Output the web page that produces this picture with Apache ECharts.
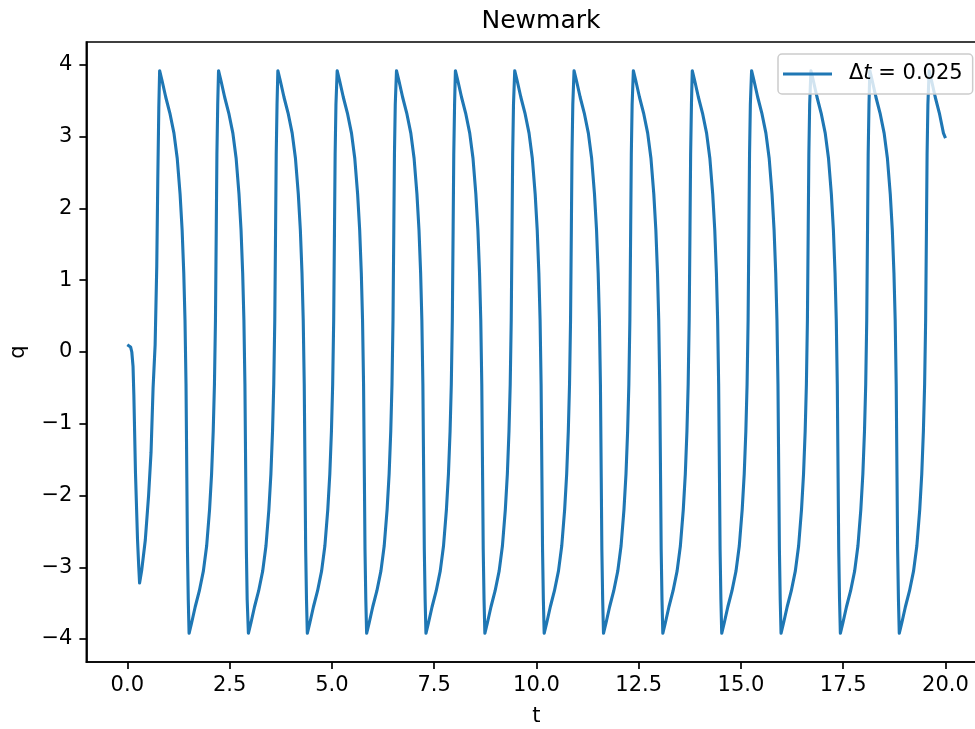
<!DOCTYPE html>
<html>
<head>
<meta charset="utf-8">
<title>Newmark</title>
<script src="https://cdn.jsdelivr.net/npm/echarts@6/dist/echarts.min.js"></script>
<style>
  html, body { margin: 0; padding: 0; background: #fff; }
  #chart { width: 975px; height: 729px; }
</style>
</head>
<body>
<div id="chart"></div>
<script>
// values: time t and response q
const tData = [
  0.00, 0.04, 0.08, 0.11, 0.14, 0.16, 0.20, 0.25, 0.28, 0.30,
  0.35, 0.44, 0.52, 0.58, 0.63, 0.68, 0.72, 0.745, 0.77,
  0.79, 0.85, 0.94, 1.04, 1.14, 1.22, 1.29, 1.34, 1.38, 1.41, 1.435, 1.455, 1.47, 1.49,
  1.51, 1.57, 1.66, 1.76, 1.86, 1.94, 2.01, 2.06, 2.10, 2.13, 2.155, 2.175, 2.19, 2.21,
  2.23, 2.29, 2.38, 2.48, 2.58, 2.66, 2.73, 2.78, 2.82, 2.85, 2.875, 2.895, 2.91, 2.93,
  2.96, 3.02, 3.11, 3.21, 3.31, 3.39, 3.46, 3.51, 3.55, 3.58, 3.605, 3.625, 3.64, 3.66,
  3.68, 3.74, 3.83, 3.93, 4.03, 4.11, 4.18, 4.23, 4.27, 4.30, 4.325, 4.345, 4.36, 4.38,
  4.40, 4.46, 4.55, 4.65, 4.75, 4.83, 4.90, 4.95, 4.99, 5.02, 5.045, 5.065, 5.08, 5.10,
  5.13, 5.19, 5.28, 5.38, 5.48, 5.56, 5.63, 5.68, 5.72, 5.75, 5.775, 5.795, 5.81, 5.83,
  5.85, 5.91, 6.00, 6.10, 6.20, 6.28, 6.35, 6.40, 6.44, 6.47, 6.495, 6.515, 6.53, 6.55,
  6.58, 6.64, 6.73, 6.83, 6.93, 7.01, 7.08, 7.13, 7.17, 7.20, 7.225, 7.245, 7.26, 7.28,
  7.30, 7.36, 7.45, 7.55, 7.65, 7.73, 7.80, 7.85, 7.89, 7.92, 7.945, 7.965, 7.98, 8.00,
  8.02, 8.08, 8.17, 8.27, 8.37, 8.45, 8.52, 8.57, 8.61, 8.64, 8.665, 8.685, 8.70, 8.72,
  8.74, 8.80, 8.89, 8.99, 9.09, 9.17, 9.24, 9.29, 9.33, 9.36, 9.385, 9.405, 9.42, 9.44,
  9.47, 9.53, 9.62, 9.72, 9.82, 9.90, 9.97, 10.02, 10.06, 10.09, 10.115, 10.135, 10.15, 10.17,
  10.19, 10.25, 10.34, 10.44, 10.54, 10.62, 10.69, 10.74, 10.78, 10.81, 10.835, 10.855, 10.87, 10.89,
  10.92, 10.98, 11.07, 11.17, 11.27, 11.35, 11.42, 11.47, 11.51, 11.54, 11.565, 11.585, 11.60, 11.62,
  11.64, 11.70, 11.79, 11.89, 11.99, 12.07, 12.14, 12.19, 12.23, 12.26, 12.285, 12.305, 12.32, 12.34,
  12.37, 12.43, 12.52, 12.62, 12.72, 12.80, 12.87, 12.92, 12.96, 12.99, 13.015, 13.035, 13.05, 13.07,
  13.09, 13.15, 13.24, 13.34, 13.44, 13.52, 13.59, 13.64, 13.68, 13.71, 13.735, 13.755, 13.77, 13.79,
  13.81, 13.87, 13.96, 14.06, 14.16, 14.24, 14.31, 14.36, 14.40, 14.43, 14.455, 14.475, 14.49, 14.51,
  14.53, 14.59, 14.68, 14.78, 14.88, 14.96, 15.03, 15.08, 15.12, 15.15, 15.175, 15.195, 15.21, 15.23,
  15.26, 15.32, 15.41, 15.51, 15.61, 15.69, 15.76, 15.81, 15.85, 15.88, 15.905, 15.925, 15.94, 15.96,
  15.98, 16.04, 16.13, 16.23, 16.33, 16.41, 16.48, 16.53, 16.57, 16.60, 16.625, 16.645, 16.66, 16.68,
  16.71, 16.77, 16.86, 16.96, 17.06, 17.14, 17.21, 17.26, 17.30, 17.33, 17.355, 17.375, 17.39, 17.41,
  17.43, 17.49, 17.58, 17.68, 17.78, 17.86, 17.93, 17.98, 18.02, 18.05, 18.075, 18.095, 18.11, 18.13,
  18.15, 18.21, 18.30, 18.40, 18.50, 18.58, 18.65, 18.70, 18.74, 18.77, 18.795, 18.815, 18.83, 18.85,
  18.87, 18.93, 19.02, 19.12, 19.22, 19.30, 19.37, 19.42, 19.46, 19.49, 19.515, 19.535, 19.55, 19.57,
  19.60, 19.66, 19.75, 19.85, 19.95, 20.00
];
const qData = [
  0.10, 0.10, 0.07, 0.00, -0.20, -0.60, -1.69, -2.62, -3.00, -3.22,
  -3.05, -2.62, -2.00, -1.40, -0.50, 0.10, 1.20, 2.40, 3.40,
  3.92, 3.78, 3.55, 3.33, 3.05, 2.70, 2.20, 1.70, 1.10, 0.45, -0.45, -1.75, -2.75, -3.45,
  -3.92, -3.78, -3.55, -3.33, -3.05, -2.70, -2.20, -1.70, -1.10, -0.45, 0.45, 1.75, 2.75, 3.45,
  3.92, 3.78, 3.55, 3.33, 3.05, 2.70, 2.20, 1.70, 1.10, 0.45, -0.45, -1.75, -2.75, -3.45,
  -3.92, -3.78, -3.55, -3.33, -3.05, -2.70, -2.20, -1.70, -1.10, -0.45, 0.45, 1.75, 2.75, 3.45,
  3.92, 3.78, 3.55, 3.33, 3.05, 2.70, 2.20, 1.70, 1.10, 0.45, -0.45, -1.75, -2.75, -3.45,
  -3.92, -3.78, -3.55, -3.33, -3.05, -2.70, -2.20, -1.70, -1.10, -0.45, 0.45, 1.75, 2.75, 3.45,
  3.92, 3.78, 3.55, 3.33, 3.05, 2.70, 2.20, 1.70, 1.10, 0.45, -0.45, -1.75, -2.75, -3.45,
  -3.92, -3.78, -3.55, -3.33, -3.05, -2.70, -2.20, -1.70, -1.10, -0.45, 0.45, 1.75, 2.75, 3.45,
  3.92, 3.78, 3.55, 3.33, 3.05, 2.70, 2.20, 1.70, 1.10, 0.45, -0.45, -1.75, -2.75, -3.45,
  -3.92, -3.78, -3.55, -3.33, -3.05, -2.70, -2.20, -1.70, -1.10, -0.45, 0.45, 1.75, 2.75, 3.45,
  3.92, 3.78, 3.55, 3.33, 3.05, 2.70, 2.20, 1.70, 1.10, 0.45, -0.45, -1.75, -2.75, -3.45,
  -3.92, -3.78, -3.55, -3.33, -3.05, -2.70, -2.20, -1.70, -1.10, -0.45, 0.45, 1.75, 2.75, 3.45,
  3.92, 3.78, 3.55, 3.33, 3.05, 2.70, 2.20, 1.70, 1.10, 0.45, -0.45, -1.75, -2.75, -3.45,
  -3.92, -3.78, -3.55, -3.33, -3.05, -2.70, -2.20, -1.70, -1.10, -0.45, 0.45, 1.75, 2.75, 3.45,
  3.92, 3.78, 3.55, 3.33, 3.05, 2.70, 2.20, 1.70, 1.10, 0.45, -0.45, -1.75, -2.75, -3.45,
  -3.92, -3.78, -3.55, -3.33, -3.05, -2.70, -2.20, -1.70, -1.10, -0.45, 0.45, 1.75, 2.75, 3.45,
  3.92, 3.78, 3.55, 3.33, 3.05, 2.70, 2.20, 1.70, 1.10, 0.45, -0.45, -1.75, -2.75, -3.45,
  -3.92, -3.78, -3.55, -3.33, -3.05, -2.70, -2.20, -1.70, -1.10, -0.45, 0.45, 1.75, 2.75, 3.45,
  3.92, 3.78, 3.55, 3.33, 3.05, 2.70, 2.20, 1.70, 1.10, 0.45, -0.45, -1.75, -2.75, -3.45,
  -3.92, -3.78, -3.55, -3.33, -3.05, -2.70, -2.20, -1.70, -1.10, -0.45, 0.45, 1.75, 2.75, 3.45,
  3.92, 3.78, 3.55, 3.33, 3.05, 2.70, 2.20, 1.70, 1.10, 0.45, -0.45, -1.75, -2.75, -3.45,
  -3.92, -3.78, -3.55, -3.33, -3.05, -2.70, -2.20, -1.70, -1.10, -0.45, 0.45, 1.75, 2.75, 3.45,
  3.92, 3.78, 3.55, 3.33, 3.05, 2.70, 2.20, 1.70, 1.10, 0.45, -0.45, -1.75, -2.75, -3.45,
  -3.92, -3.78, -3.55, -3.33, -3.05, -2.70, -2.20, -1.70, -1.10, -0.45, 0.45, 1.75, 2.75, 3.45,
  3.92, 3.78, 3.55, 3.33, 3.05, 2.70, 2.20, 1.70, 1.10, 0.45, -0.45, -1.75, -2.75, -3.45,
  -3.92, -3.78, -3.55, -3.33, -3.05, -2.70, -2.20, -1.70, -1.10, -0.45, 0.45, 1.75, 2.75, 3.45,
  3.92, 3.78, 3.55, 3.33, 3.05, 2.98
];
const xTicks = [0, 2.5, 5, 7.5, 10, 12.5, 15, 17.5, 20];
const yTicks = [-4, -3, -2, -1, 0, 1, 2, 3, 4];
const seriesName = 'Δt = 0.025';

if (tData.length !== qData.length) console.log('length mismatch', tData.length, qData.length);
const points = tData.map((t, i) => [t, qData[i]]);

const font = "'DejaVu Sans', sans-serif";
const chart = echarts.init(document.getElementById('chart'), null, { renderer: 'canvas' });

chart.setOption({
  animation: false,
  backgroundColor: '#fff',
  title: {
    text: 'Newmark',
    left: 536,
    textAlign: 'center',
    top: 4,
    textStyle: { fontFamily: font, fontSize: 25, fontWeight: 'normal', color: '#000' }
  },
  grid: {
    left: 86.4, top: 42, width: 900, height: 620,
    containLabel: false,
    outerBoundsMode: 'none',
    show: true, borderColor: '#000', borderWidth: 1.7, backgroundColor: 'transparent'
  },
  legend: {
    data: [seriesName],
    left: 778, top: 54,
    padding: [8, 10, 8, 5],
    icon: 'rect', itemWidth: 49, itemHeight: 3,
    selectedMode: false,
    backgroundColor: 'rgba(255,255,255,0.8)',
    borderColor: '#cccccc', borderWidth: 1.5, borderRadius: 4,
    formatter: () => '{d|Δ}{i|t}{n| = 0.025}',
    textStyle: {
      fontFamily: font, fontSize: 21, color: '#000', lineHeight: 24,
      rich: {
        d: { fontFamily: font, fontSize: 21, color: '#000', padding: [0, 0, 0, 12] },
        i: { fontFamily: font, fontSize: 21, color: '#000', fontStyle: 'italic' },
        n: { fontFamily: font, fontSize: 21, color: '#000' }
      }
    }
  },
  xAxis: {
    type: 'value', min: -1, max: 21,
    name: 't', nameLocation: 'middle', nameGap: 44,
    nameTextStyle: { fontFamily: font, fontSize: 21, color: '#000' },
    axisLine: { show: true, onZero: false, lineStyle: { color: '#000', width: 1.7 } },
    axisTick: { show: true, length: 7, lineStyle: { color: '#000', width: 1.7 }, customValues: xTicks },
    axisLabel: {
      margin: 13, fontFamily: font, fontSize: 21, color: '#000',
      customValues: xTicks, formatter: v => v.toFixed(1)
    },
    splitLine: { show: false }
  },
  yAxis: {
    type: 'value', min: -4.32, max: 4.32,
    name: 'q', nameLocation: 'middle', nameGap: 57,
    nameTextStyle: { fontFamily: font, fontSize: 21, color: '#000' },
    axisLine: { show: true, onZero: false, lineStyle: { color: '#000', width: 1.7 } },
    axisTick: { show: true, length: 7, lineStyle: { color: '#000', width: 1.7 }, customValues: yTicks },
    axisLabel: {
      margin: 14, fontFamily: font, fontSize: 21, color: '#000',
      customValues: yTicks, formatter: v => String(v).replace('-', '\u2212')
    },
    splitLine: { show: false }
  },
  series: [{
    name: seriesName,
    type: 'line',
    data: points,
    symbol: 'none',
    color: '#1f77b4',
    lineStyle: { color: '#1f77b4', width: 3.1, join: 'round' },
    z: 2
  }]
});
</script>
</body>
</html>
